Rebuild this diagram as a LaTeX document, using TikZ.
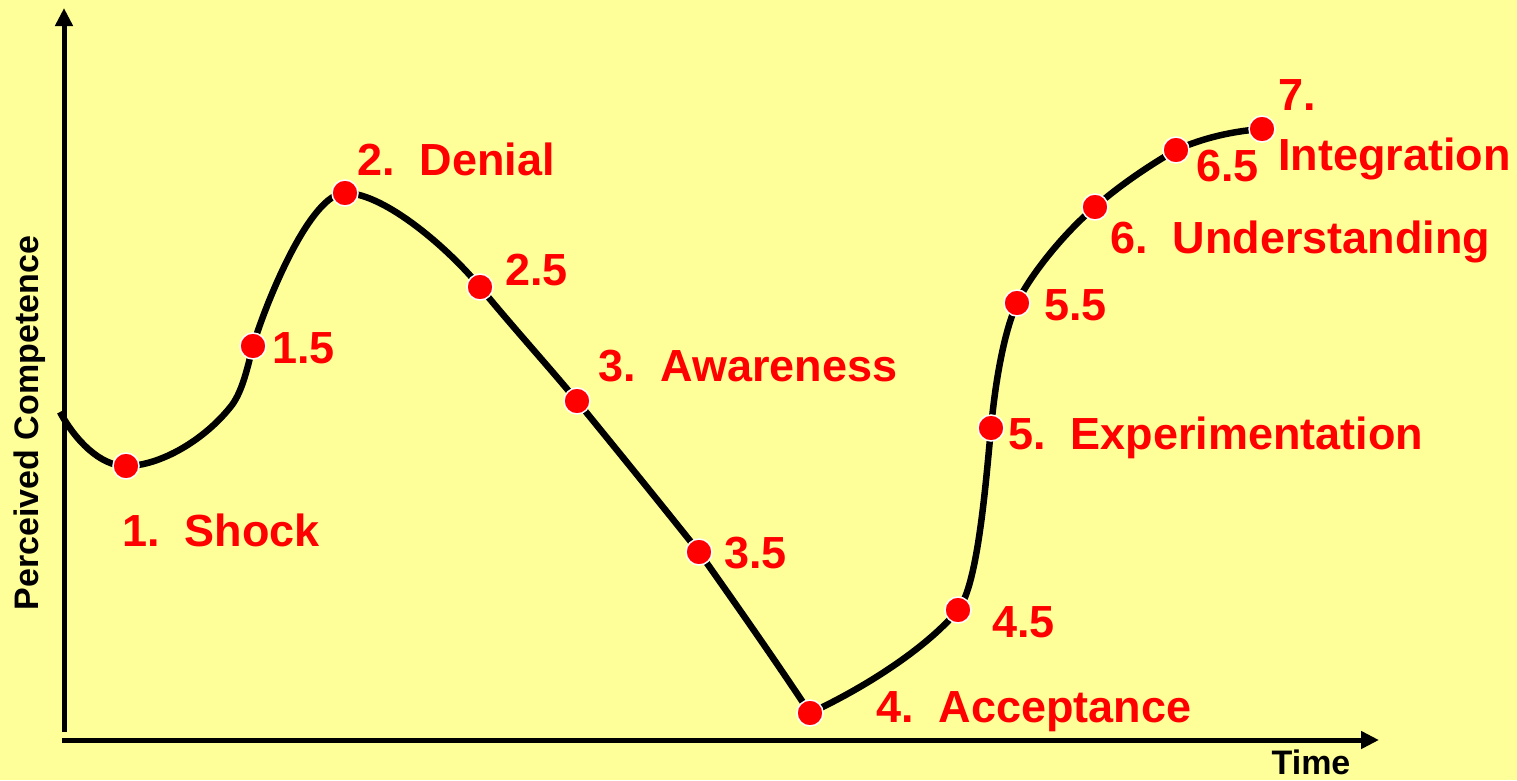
\documentclass[tikz,border=0pt]{standalone}
\usepackage{fontspec}
\setmainfont{Liberation Sans}
\usetikzlibrary{arrows.meta}
\definecolor{bgyellow}{HTML}{FFFF99}
\definecolor{lblred}{HTML}{FF0000}
\begin{document}
\begin{tikzpicture}[x=1pt,y=-1pt,
  axisline/.style={line width=5pt,-{Triangle[length=18pt,width=17pt]}},
  curveline/.style={line width=6.5pt,line join=round},
  stagedot/.style={circle,fill=lblred,draw=white,line width=1.5pt,minimum size=26pt,inner sep=0pt},
  stagelbl/.style={anchor=base west,text=lblred,inner sep=0pt,font=\fontsize{45}{54}\selectfont\bfseries},
  axislbl/.style={text=black,inner sep=0pt,font=\fontsize{34}{40}\selectfont\bfseries}]
\fill[bgyellow] (0,0) rectangle (1517,780);
\useasboundingbox (0,0) rectangle (1517,780);
% axes
\coordinate (ybot) at (64,732);
\coordinate (ytop) at (64,8);
\coordinate (xleft) at (62,740);
\coordinate (xright) at (1379,740);
\draw[axisline] (ybot) -- (ytop);
\draw[axisline] (xleft) -- (xright);
\node[axislbl,rotate=90] (ylab) at (30,423) {Perceived Competence};
\node[axislbl,anchor=base] (xlab) at (1311,774) {Time};
% stage positions
\coordinate (s0) at (60,412);
\coordinate (p1) at (126,466);
\coordinate (k1) at (232,405);
\coordinate (p15) at (253,346);
\coordinate (p2) at (345,193);
\coordinate (p25) at (480,287);
\coordinate (p3) at (577,401);
\coordinate (p35) at (699,552);
\coordinate (p4) at (810,713);
\coordinate (p45) at (958,610);
\coordinate (p5) at (991,428);
\coordinate (p55) at (1017,303);
\coordinate (p6) at (1095,207);
\coordinate (p65) at (1176,150);
\coordinate (p7) at (1262,129);
% curve
\draw[curveline] (s0) .. controls (75,440) and (100,466) .. (p1)
  .. controls (160,466) and (205,440) .. (k1)
  .. controls (243,390) and (248,365) .. (p15)
  .. controls (265,305) and (310,193) .. (p2)
  .. controls (385,193) and (450,250) .. (p25)
  .. controls (510,324) and (550,368) .. (p3)
  .. controls (617,450) and (660,503) .. (p35)
  .. controls (735,603) and (775,660) .. (p4)
  .. controls (860,690) and (925,650) .. (p45)
  .. controls (978,586) and (986,480) .. (p5)
  .. controls (996,375) and (1005,330) .. (p55)
  .. controls (1030,275) and (1065,232) .. (p6)
  .. controls (1120,185) and (1150,165) .. (p65)
  .. controls (1205,137) and (1235,131) .. (p7);
% dots
\foreach \p in {p1,p15,p2,p25,p3,p35,p4,p45,p5,p55,p6,p65,p7}
  \node[stagedot] (d\p) at (\p) {};
% labels
\node[stagelbl] (l1) at (122,546) {1.~~Shock};
\node[stagelbl] (l15) at (272,363) {1.5};
\node[stagelbl] (l2) at (357,175) {2.~~Denial};
\node[stagelbl] (l25) at (505,285) {2.5};
\node[stagelbl] (l3) at (598,381) {3.~~Awareness};
\node[stagelbl] (l35) at (724,568) {3.5};
\node[stagelbl] (l4) at (876,722) {4.~~Acceptance};
\node[stagelbl] (l45) at (992,637) {4.5};
\node[stagelbl] (l5) at (1008,449) {5.~~Experimentation};
\node[stagelbl] (l55) at (1044,320) {5.5};
\node[stagelbl] (l6) at (1110,253) {6.~~Understanding};
\node[stagelbl] (l65) at (1196,181) {6.5};
\node[stagelbl] (l7a) at (1278,110) {7.};
\node[stagelbl] (l7b) at (1278,170) {Integration};
\end{tikzpicture}
\end{document}
